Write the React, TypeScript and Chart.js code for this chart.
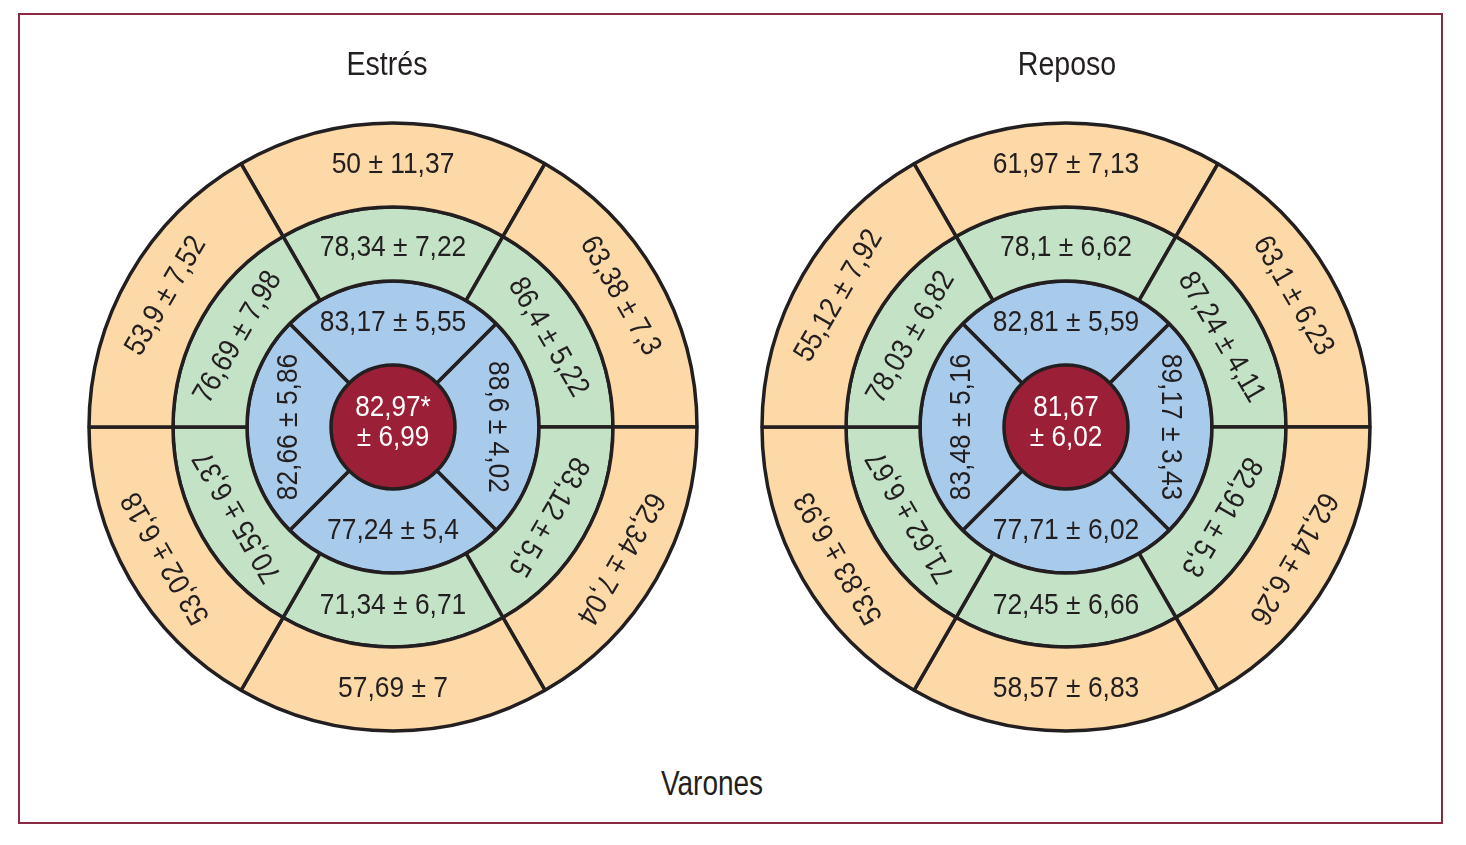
import React, { useEffect, useRef } from "react";
import { Chart, registerables } from "chart.js";

Chart.register(...registerables);

// Segment order for the 6-segment rings: top, top-right, bottom-right, bottom, bottom-left, top-left
// Segment order for the 4-segment ring: top, right, bottom, left
const stressBasalMean = [50, 63.38, 62.34, 57.69, 53.02, 53.9];
const stressBasalSd = [11.37, 7.3, 7.04, 7, 6.18, 7.52];
const stressMidMean = [78.34, 86.4, 83.12, 71.34, 70.55, 76.69];
const stressMidSd = [7.22, 5.22, 5.5, 6.71, 6.37, 7.98];
const stressApicalMean = [83.17, 88.6, 77.24, 82.66];
const stressApicalSd = [5.55, 4.02, 5.4, 5.86];
const stressApexMean = 82.97;
const stressApexSd = 6.99;
const stressApexMark = "*";

const restBasalMean = [61.97, 63.1, 62.14, 58.57, 53.83, 55.12];
const restBasalSd = [7.13, 6.23, 6.26, 6.83, 6.93, 7.92];
const restMidMean = [78.1, 87.24, 82.91, 72.45, 71.62, 78.03];
const restMidSd = [6.62, 4.11, 5.3, 6.66, 6.67, 6.82];
const restApicalMean = [82.81, 89.17, 77.71, 83.48];
const restApicalSd = [5.59, 3.43, 6.02, 5.16];
const restApexMean = 81.67;
const restApexSd = 6.02;
const restApexMark = "";

const sixSegments = [1, 1, 1, 1, 1, 1];
const fourSegments = [1, 1, 1, 1];
const oneSegment = [1];

const titleStress = "Estrés";
const titleRest = "Reposo";
const footerText = "Varones";

const FONT = "'Liberation Sans', Arial, Helvetica, sans-serif";
const ORANGE = "#FDD9A8";
const GREEN = "#C4E2C6";
const BLUE = "#A9CBEB";
const RED = "#9C1F38";
const LINE = "#231F20";

const fmt = (v: number) => String(v).replace(".", ",");

type BullProps = {
  title: string;
  titleShift: number;
  basalMean: number[];
  basalSd: number[];
  midMean: number[];
  midSd: number[];
  apicalMean: number[];
  apicalSd: number[];
  apexMean: number;
  apexSd: number;
  apexMark: string;
  left: number;
};

const labelPlugin = {
  id: "segmentLabels",
  afterDatasetsDraw(chart: any) {
    const ctx = chart.ctx;
    const opts = chart.options.plugins.segmentLabels;
    const labels: string[][][] = opts.labels;
    ctx.save();
    ctx.textAlign = "center";
    // title
    const ca = chart.chartArea;
    const cx = (ca.left + ca.right) / 2;
    ctx.save();
    ctx.textBaseline = "alphabetic";
    ctx.fillStyle = LINE;
    ctx.font = `34px ${FONT}`;
    ctx.translate(cx + opts.titleShift, 55);
    ctx.scale(0.84, 1);
    ctx.fillText(opts.title, 0, 0);
    ctx.restore();

    ctx.textBaseline = "middle";
    chart.data.datasets.forEach((ds: any, di: number) => {
      const meta = chart.getDatasetMeta(di);
      meta.data.forEach((arc: any, i: number) => {
        const p = arc.getProps(["x", "y", "startAngle", "endAngle", "innerRadius", "outerRadius"], true);
        const lines = labels[di][i];
        if (p.innerRadius <= 0.5) {
          ctx.fillStyle = "#FFFFFF";
          ctx.font = `29px ${FONT}`;
          const lh = 30;
          lines.forEach((t: string, k: number) => {
            ctx.save();
            ctx.translate(p.x, p.y - 4 + (k - (lines.length - 1) / 2) * lh);
            ctx.scale(0.9, 1);
            ctx.fillText(t, 0, 0);
            ctx.restore();
          });
          return;
        }
        const mid = (p.startAngle + p.endAngle) / 2;
        const r = (p.innerRadius + p.outerRadius) / 2 - (di === 1 ? 4 : 0);
        const x = p.x + Math.cos(mid) * r;
        const y = p.y + Math.sin(mid) * r;
        let rot = mid + Math.PI / 2;
        rot = ((rot % (2 * Math.PI)) + 2 * Math.PI) % (2 * Math.PI);
        if (Math.abs(rot - Math.PI) < 0.1) rot = 0;
        ctx.save();
        ctx.translate(x, y);
        ctx.rotate(rot);
        ctx.scale(0.88, 1);
        ctx.fillStyle = LINE;
        ctx.font = `30px ${FONT}`;
        ctx.fillText(lines[0], 0, 0);
        ctx.restore();
      });
    });
    ctx.restore();
  },
};

function BullsEye(props: BullProps) {
  const ref = useRef<HTMLCanvasElement>(null);
  useEffect(() => {
    const seg = (m: number[], s: number[]) => m.map((v, i) => [`${fmt(v)} ± ${fmt(s[i])}`]);
    const labels = [
      seg(props.basalMean, props.basalSd),
      seg(props.midMean, props.midSd),
      seg(props.apicalMean, props.apicalSd),
      [[`${fmt(props.apexMean)}${props.apexMark}`, `± ${fmt(props.apexSd)}`]],
    ];
    const common = { borderColor: LINE, borderWidth: 3.5 };
    const chart = new Chart(ref.current!, {
      type: "doughnut",
      data: {
        labels: ["a", "b", "c", "d", "e", "f"],
        datasets: [
          { data: sixSegments, backgroundColor: ORANGE, weight: 84, rotation: -30, ...common } as any,
          { data: sixSegments, backgroundColor: GREEN, weight: 74, rotation: -30, ...common } as any,
          { data: fourSegments, backgroundColor: BLUE, weight: 84, rotation: -45, ...common } as any,
          { data: oneSegment, backgroundColor: RED, weight: 62, rotation: 0, borderWidth: 0 } as any,
        ],
      },
      options: {
        animation: false,
        responsive: false,
        cutout: 0,
        radius: 304,
        layout: { padding: { top: 100, bottom: 26, left: 0, right: 0 } },
        plugins: {
          legend: { display: false },
          tooltip: { enabled: false },
          title: { display: false },
          segmentLabels: { labels, title: props.title, titleShift: props.titleShift },
        } as any,
      },
      plugins: [labelPlugin],
    });
    return () => chart.destroy();
  }, []);
  return (
    <canvas
      ref={ref}
      width={660}
      height={740}
      style={{ position: "absolute", left: props.left, top: 12, width: 660, height: 740 }}
    />
  );
}

export default function App() {
  return (
    <div style={{ position: "relative", width: 1450, height: 829, fontFamily: FONT }}>
      <div
        style={{
          position: "absolute",
          left: 10,
          top: 5,
          width: 1425,
          height: 811,
          boxSizing: "border-box",
          border: "2px solid #8B2942",
        }}
      />
      <BullsEye
        title={titleStress}
        titleShift={-6}
        basalMean={stressBasalMean}
        basalSd={stressBasalSd}
        midMean={stressMidMean}
        midSd={stressMidSd}
        apicalMean={stressApicalMean}
        apicalSd={stressApicalSd}
        apexMean={stressApexMean}
        apexSd={stressApexSd}
        apexMark={stressApexMark}
        left={55}
      />
      <BullsEye
        title={titleRest}
        titleShift={1}
        basalMean={restBasalMean}
        basalSd={restBasalSd}
        midMean={restMidMean}
        midSd={restMidSd}
        apicalMean={restApicalMean}
        apicalSd={restApicalSd}
        apexMean={restApexMean}
        apexSd={restApexSd}
        apexMark={restApexMark}
        left={728}
      />
      <div
        style={{
          position: "absolute",
          left: 704,
          top: 755,
          transform: "translateX(-50%) scaleX(0.8)",
          fontSize: 35,
          lineHeight: "40px",
          color: LINE,
          whiteSpace: "nowrap",
        }}
      >
        {footerText}
      </div>
    </div>
  );
}
